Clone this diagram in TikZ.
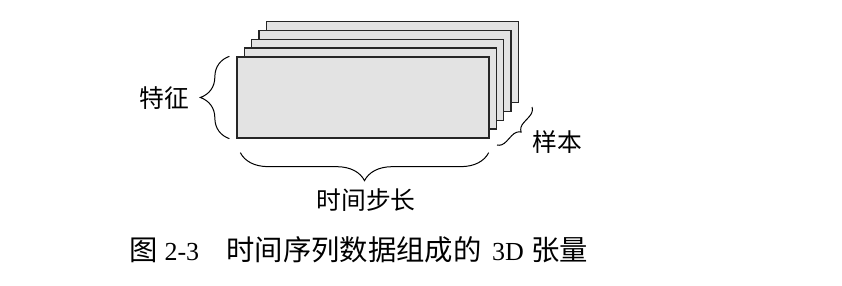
\documentclass[tikz,border=0pt]{standalone}
\usepackage{fontspec}
\setmainfont{Liberation Serif}
\newfontfamily\cjk[Scale=1.18]{Noto Sans CJK SC}
\newfontfamily\cjkcap[Scale=1.09]{Noto Sans CJK SC}
\usetikzlibrary{decorations.pathreplacing,positioning}
\definecolor{sheetgray}{RGB}{227,227,227}

\begin{document}
\begin{tikzpicture}[x=1pt, y=1pt,
  every node/.style={font=\fontsize{21}{25}\selectfont, inner sep=0pt},
  sheet/.style={draw=black!85, fill=sheetgray, line width=1.3pt,
    minimum width=252pt, minimum height=81pt},
  curly/.style={decorate, decoration={brace, amplitude=#1}, line width=1pt}]
  \useasboundingbox (0,0) rectangle (842,-286);
  % stacked samples, back one first
  \foreach \k in {4,3,2,1,0} {
    \node[sheet] (s\k) at (363+\k*7.3,-97.5+\k*8.9) {};
  }
  % features
  \coordinate (fa) at ([xshift=-7pt]s0.south west);
  \coordinate (fb) at ([xshift=-7pt]s0.north west);
  \draw[curly=29pt] (fa) -- (fb);
  \node (feat) at (164,-98) {\cjk 特征};
  % time steps
  \coordinate (ta) at ([xshift=-1pt,yshift=-14pt]s0.south east);
  \coordinate (tb) at ([xshift=4pt,yshift=-14pt]s0.south west);
  \draw[curly=28pt] (ta) -- (tb);
  \node (steps) at (366,-200) {\cjk 时间步长};
  % samples
  \coordinate (sa) at (532,-107);
  \coordinate (sb) at (497,-145);
  \draw[curly=9pt] (sa) -- (sb);
  \node (samp) at (557,-142) {\cjk 样本};
  \node[font=\fontsize{26}{30}\selectfont] (caption) at (359,-250)
    {{\cjkcap 图} 2-3\hspace{1.05em}{\cjkcap 时间序列数据组成的}\hspace{0.4em}3D\hspace{0.3em}{\cjkcap 张量}};
\end{tikzpicture}
\end{document}
